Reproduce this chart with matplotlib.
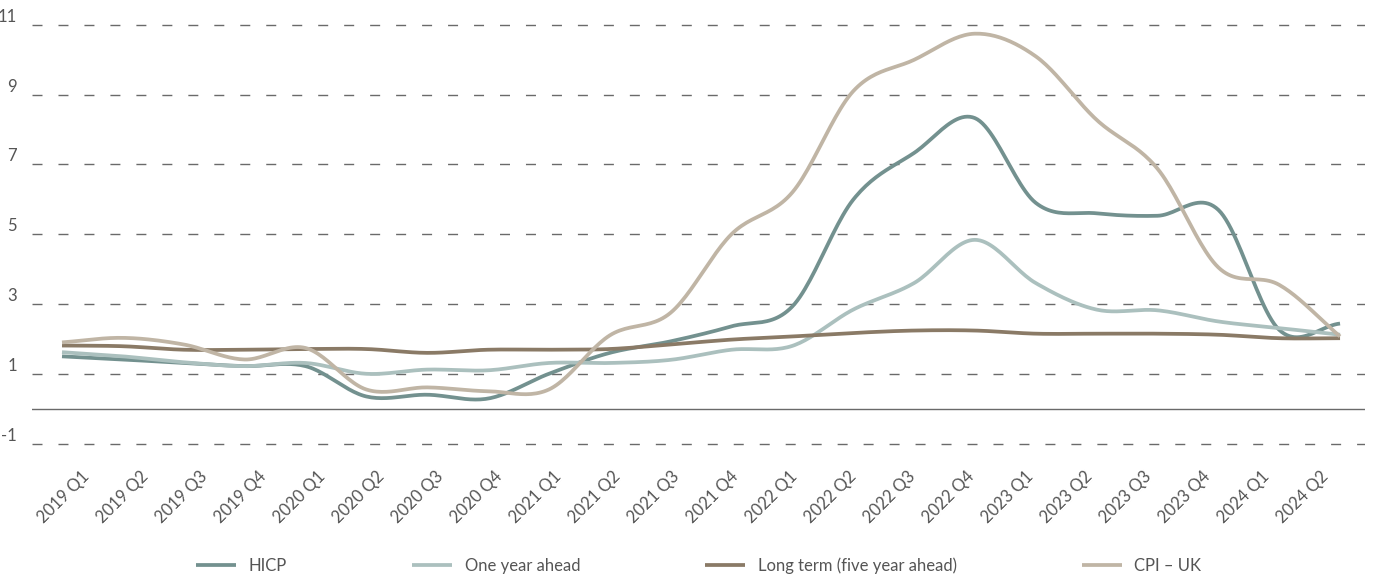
import numpy as np
import matplotlib
matplotlib.use("Agg")
import matplotlib.pyplot as plt

plt.rcParams['font.family'] = ['Lato', 'DejaVu Sans']

quarters = ["2019 Q1", "2019 Q2", "2019 Q3", "2019 Q4",
            "2020 Q1", "2020 Q2", "2020 Q3", "2020 Q4",
            "2021 Q1", "2021 Q2", "2021 Q3", "2021 Q4",
            "2022 Q1", "2022 Q2", "2022 Q3", "2022 Q4",
            "2023 Q1", "2023 Q2", "2023 Q3", "2023 Q4",
            "2024 Q1", "2024 Q2"]

hicp = [1.50, 1.41, 1.31, 1.22, 1.22, 0.35, 0.40, 0.29, 1.00, 1.60, 1.93,
        2.36, 2.93, 5.99, 7.33, 8.33, 5.90, 5.60, 5.53, 5.70, 2.26, 2.44]
one_year = [1.62, 1.50, 1.33, 1.22, 1.31, 1.00, 1.12, 1.10, 1.31, 1.31, 1.40,
            1.69, 1.80, 2.84, 3.60, 4.84, 3.60, 2.84, 2.82, 2.50, 2.31, 2.12]
long_term = [1.81, 1.79, 1.69, 1.69, 1.71, 1.71, 1.60, 1.69, 1.69, 1.71, 1.84,
             1.98, 2.07, 2.17, 2.24, 2.24, 2.15, 2.15, 2.15, 2.12, 2.02, 2.02]
cpi_uk = [1.90, 2.03, 1.84, 1.41, 1.74, 0.55, 0.61, 0.50, 0.55, 2.10, 2.75,
          5.00, 6.20, 9.10, 10.00, 10.75, 10.10, 8.28, 6.88, 4.05, 3.55, 2.07]

series = [("HICP", hicp, "#73918f"),
          ("One year ahead", one_year, "#abc0be"),
          ("Long term (five year ahead)", long_term, "#8a7a66"),
          ("CPI \u2013 UK", cpi_uk, "#c0b5a5")]

txt_col = '#555555'


def smooth(y, n=24):
    # cubic hermite (catmull-rom) through the quarterly points, for drawing only
    y = np.asarray(y, float)
    m = np.empty_like(y)
    m[1:-1] = (y[2:] - y[:-2]) / 2
    m[0] = y[1] - y[0]
    m[-1] = y[-1] - y[-2]
    t = np.linspace(0, 1, n, endpoint=False)
    h00 = 2*t**3 - 3*t**2 + 1
    h10 = t**3 - 2*t**2 + t
    h01 = -2*t**3 + 3*t**2
    h11 = t**3 - t**2
    xs, ys = [], []
    for i in range(len(y) - 1):
        xs.append(i + t)
        ys.append(h00*y[i] + h10*m[i] + h01*y[i+1] + h11*m[i+1])
    xs.append([len(y) - 1])
    ys.append([y[-1]])
    return np.concatenate(xs), np.concatenate(ys)


fig = plt.figure(figsize=(13.73, 5.81), dpi=100)
ax = fig.add_axes([32/1373, 1 - 461/581, (1365-32)/1373, 450/581])

for name, vals, col in series:
    sx, sy = smooth(vals)
    ax.plot(sx, sy, color=col, lw=2.7, label=name, solid_capstyle='butt')

ax.axhline(0, color='#6a6a6a', lw=1.0, zorder=0)
ax.set_ylim(-1.5, 11.4)
ax.set_xlim(-0.493, 21.41)
ax.set_yticks([-1, 1, 3, 5, 7, 9, 11])
ax.set_yticklabels(["-1", "1", "3", "5", "7", "9", "11"])
ax.grid(axis='y', color='#6a6a6a', lw=1.0, linestyle=(0, (7.2, 11.5)))
ax.set_axisbelow(True)
ax.tick_params(axis='y', length=0, pad=11, labelsize=12, labelcolor=txt_col)
for lab in ax.get_yticklabels():
    lab.set_verticalalignment('bottom')
for s in ax.spines.values():
    s.set_visible(False)

# category labels sit on a slightly different spacing than the plotted points
ax.set_xticks([])
sec = ax.secondary_xaxis('bottom',
                         functions=(lambda x: (62 + 60.86*x - 81) / 59.0,
                                    lambda k: (59.0*k + 81 - 62) / 60.86))
sec.set_xticks(range(len(quarters)))
sec.set_xticklabels(quarters, rotation=45, ha='right', rotation_mode='anchor',
                    fontsize=12, color=txt_col)
sec.tick_params(length=0, pad=5)
for s in sec.spines.values():
    s.set_visible(False)

fig.legend(loc='center', bbox_to_anchor=(0.509, 0.026), ncol=4, frameon=False,
           handlelength=2.4, handletextpad=0.75, columnspacing=7.5,
           labelcolor=txt_col, prop={'size': 12})

fig.savefig("out.png", dpi=100)
